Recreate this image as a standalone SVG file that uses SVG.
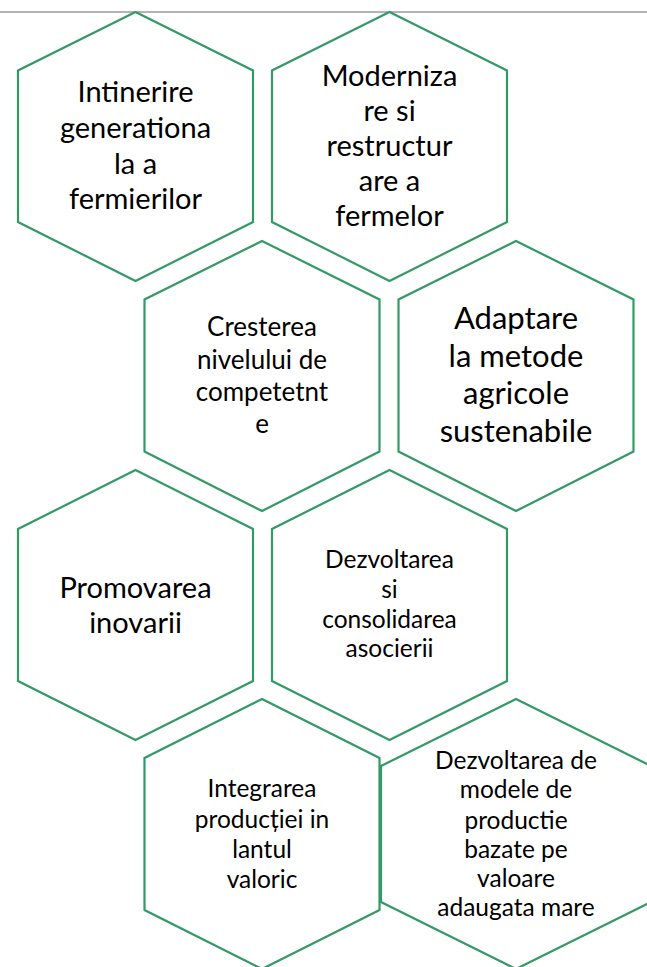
<svg xmlns="http://www.w3.org/2000/svg" width="647" height="967" viewBox="0 0 647 967">
<style>
.hex{fill:#ffffff;stroke:#339966;stroke-width:2.2;stroke-linejoin:miter}
.t{font-family:Lato,"Liberation Sans",sans-serif;fill:#000;text-anchor:middle}
.s29{font-size:29px}
.s26{font-size:26px}
.s31{font-size:31px}
.s25{font-size:24.5px}
</style>
<rect x="0" y="0" width="647" height="967" fill="#ffffff"/>
<line x1="0" y1="12" x2="647" y2="12" stroke="#9a9a9a" stroke-width="1.5"/>
<g id="connectors"/>
<g id="node1">
<polygon class="hex" points="135.5,12 253,70.5 253,222 135.5,281 18,222 18,70.5"/>
<text class="t s29" x="135.5"><tspan x="135.5" y="102">Intinerire</tspan><tspan x="135.5" y="138">generationa</tspan><tspan x="135.5" y="174">la a</tspan><tspan x="135.5" y="209">fermierilor</tspan></text>
</g>
<g id="node2">
<polygon class="hex" points="389.5,12 507,70.5 507,222 389.5,281 272,222 272,70.5"/>
<text class="t s29" x="389.5"><tspan x="389.5" y="86">Moderniza</tspan><tspan x="389.5" y="121">re si</tspan><tspan x="389.5" y="156">restructur</tspan><tspan x="389.5" y="191">are a</tspan><tspan x="389.5" y="226">fermelor</tspan></text>
</g>
<g id="node3">
<polygon class="hex" points="262,241 379.5,299.5 379.5,451.5 262,511 144.5,451.5 144.5,299.5"/>
<text class="t s26" x="262"><tspan x="262" y="336">Cresterea</tspan><tspan x="262" y="368.5">nivelului de</tspan><tspan x="262" y="401">competetnt</tspan><tspan x="262" y="433">e</tspan></text>
</g>
<g id="node4">
<polygon class="hex" points="516,241 633.5,299.5 633.5,451.5 516,511 398.5,451.5 398.5,299.5"/>
<text class="t s31" x="516"><tspan x="516" y="329">Adaptare</tspan><tspan x="516" y="367">la metode</tspan><tspan x="516" y="404">agricole</tspan><tspan x="516" y="442">sustenabile</tspan></text>
</g>
<g id="node5">
<polygon class="hex" points="135.5,470 253,529 253,681 135.5,740 18,681 18,529"/>
<text class="t s29" x="135.5"><tspan x="135.5" y="598">Promovarea</tspan><tspan x="135.5" y="633">inovarii</tspan></text>
</g>
<g id="node6">
<polygon class="hex" points="389.5,470 507,529 507,681 389.5,740 272,681 272,529"/>
<text class="t s25" x="389.5"><tspan x="389.5" y="568">Dezvoltarea</tspan><tspan x="389.5" y="597.5">si</tspan><tspan x="389.5" y="627.5">consolidarea</tspan><tspan x="389.5" y="657">asocierii</tspan></text>
</g>
<g id="node7">
<polygon class="hex" points="262,699 379.5,758 379.5,910 262,969 144.5,910 144.5,758"/>
<text class="t s25" x="262"><tspan x="262" y="797">Integrarea</tspan><tspan x="262" y="827.5">producției in</tspan><tspan x="262" y="858">lantul</tspan><tspan x="262" y="888">valoric</tspan></text>
</g>
<g id="node8">
<polygon class="hex" points="516,699 651,766 651,902 516,969 381,902 381,766"/>
<text class="t s25" x="516"><tspan x="516" y="769">Dezvoltarea de</tspan><tspan x="516" y="798">modele de</tspan><tspan x="516" y="828.5">productie</tspan><tspan x="516" y="858">bazate pe</tspan><tspan x="516" y="887">valoare</tspan><tspan x="516" y="916">adaugata mare</tspan></text>
</g>
</svg>
